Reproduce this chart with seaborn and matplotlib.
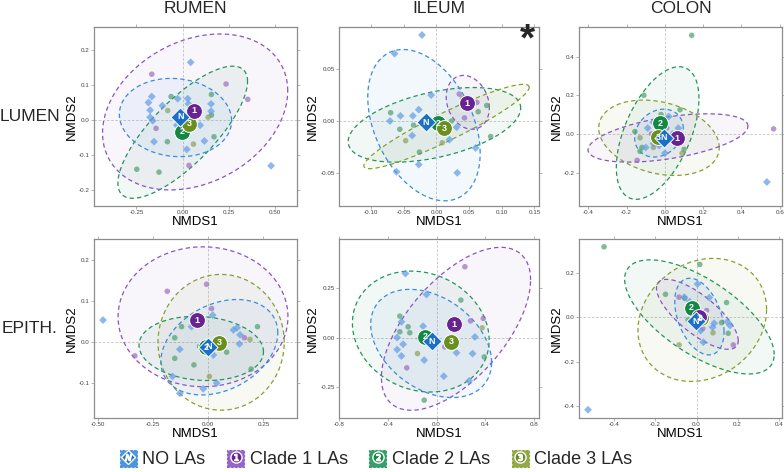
import numpy as np
import pandas as pd
import seaborn as sns
import matplotlib.pyplot as plt
from matplotlib.lines import Line2D
from matplotlib.patches import Patch
from matplotlib.legend_handler import HandlerTuple

sns.set_theme(style="white")
plt.rcParams['font.family'] = ['Liberation Sans', 'DejaVu Sans']

# groups and colours
groups = ["NO LAs", "Clade 1 LAs", "Clade 2 LAs", "Clade 3 LAs"]
short = {"NO LAs": "N", "Clade 1 LAs": "1", "Clade 2 LAs": "2", "Clade 3 LAs": "3"}
line_col = {"NO LAs": "#3a8ae0", "Clade 1 LAs": "#8a55c0", "Clade 2 LAs": "#23955a", "Clade 3 LAs": "#86a032"}
dark_col = {"NO LAs": "#1c6fc8", "Clade 1 LAs": "#662391", "Clade 2 LAs": "#138844", "Clade 3 LAs": "#6a8f1f"}
pt_col = {"NO LAs": "#5f9be6", "Clade 1 LAs": "#9a6ec0", "Clade 2 LAs": "#4f9f70", "Clade 3 LAs": "#8f9f5a"}
pt_marker = {"NO LAs": "D", "Clade 1 LAs": "o", "Clade 2 LAs": "o", "Clade 3 LAs": "o"}
draw_order = ["Clade 2 LAs", "Clade 3 LAs", "Clade 1 LAs", "NO LAs"]

sites = ["RUMEN", "ILEUM", "COLON"]
layers = ["LUMEN", "EPITH."]

# ---- RUMEN / LUMEN ----
rumen_lumen_points = {
    "NO LAs": [(0.043, 0.165), (-0.167, 0.067), (-0.185, 0.05), (-0.11, 0.041), (-0.176, 0.028),
               (-0.027, 0.061), (0.027, 0.061), (0.031, 0.046), (0.153, 0.046), (-0.176, 0.008),
               (-0.162, -0.002), (-0.032, -0.015), (0.094, -0.015), (-0.155, -0.062), (0.022, -0.084),
               (0.117, -0.06), (0.477, -0.131), (0.153, 0.025)],
    "Clade 1 LAs": [(-0.167, 0.131), (0.234, 0.103), (0.351, 0.059), (-0.144, -0.024), (0.034, -0.13)],
    "Clade 2 LAs": [(-0.063, 0.067), (-0.083, -0.062), (0.155, 0.073), (0.169, -0.048), (-0.248, -0.141),
                    (-0.128, -0.149), (0.155, 0.014)],
    "Clade 3 LAs": [(-0.081, 0.027), (0.137, 0.008), (0.058, -0.069)],
}
rumen_lumen_centroids = {"NO LAs": (-0.014, 0.009), "Clade 1 LAs": (0.063, 0.027),
                         "Clade 2 LAs": (-0.004, -0.033), "Clade 3 LAs": (0.034, -0.011)}
# ellipse: centre x, centre y, half width, half height, correlation
rumen_lumen_ellipses = {"NO LAs": (-0.039, 0.007, 0.303, 0.112, -0.08),
                        "Clade 1 LAs": (0.067, 0.023, 0.5, 0.223, 0.27),
                        "Clade 2 LAs": (0.0, -0.035, 0.35, 0.189, 0.77)}

# ---- ILEUM / LUMEN ----
ileum_lumen_points = {
    "NO LAs": [(-0.022, 0.083), (-0.064, 0.065), (-0.008, 0.025), (-0.027, 0.011), (-0.036, 0.005),
               (-0.055, 0.005), (-0.071, 0.0), (-0.037, -0.014), (0.02, -0.018), (0.031, -0.006),
               (0.06, -0.026), (-0.027, -0.042), (-0.061, -0.049), (0.032, -0.05)],
    "Clade 1 LAs": [(0.035, 0.026), (0.062, 0.018), (0.043, 0.003)],
    "Clade 2 LAs": [(-0.07, 0.008), (-0.056, -0.008), (-0.035, -0.004), (-0.026, -0.03), (0.077, 0.015),
                    (0.083, -0.015), (0.064, 0.009), (0.023, 0.0)],
    "Clade 3 LAs": [(-0.047, -0.019), (0.009, -0.021), (0.04, 0.022)],
}
ileum_lumen_centroids = {"NO LAs": (-0.016, -0.001), "Clade 1 LAs": (0.047, 0.017),
                         "Clade 2 LAs": (0.003, -0.002), "Clade 3 LAs": (0.012, -0.007)}
ileum_lumen_ellipses = {"NO LAs": (-0.019, -0.004, 0.086, 0.073, -0.37),
                        "Clade 1 LAs": (0.048, 0.018, 0.033, 0.026, -0.2),
                        "Clade 2 LAs": (-0.003, -0.0037, 0.132, 0.036, 0.45),
                        "Clade 3 LAs": (0.0155, -0.0053, 0.1265, 0.0407, 0.93)}

# ---- COLON / LUMEN ----
colon_lumen_points = {
    "NO LAs": [(0.533, -0.249), (-0.06, 0.06), (-0.09, 0.03), (0.02, 0.09), (-0.06, -0.05), (-0.1, -0.07),
               (0.07, 0.03), (0.0, -0.1), (-0.03, -0.06), (0.04, 0.0)],
    "Clade 1 LAs": [(0.568, 0.026), (-0.145, -0.137), (-0.07, 0.0), (0.01, 0.03)],
    "Clade 2 LAs": [(0.14, 0.51), (-0.11, 0.2), (0.079, 0.125), (-0.157, 0.012), (-0.12, -0.07),
                    (-0.13, -0.09), (0.1, -0.08), (-0.02, 0.1)],
    "Clade 3 LAs": [(-0.06, -0.07), (0.09, -0.1), (-0.13, -0.02), (-0.02, 0.0)],
}
colon_lumen_centroids = {"NO LAs": (-0.005, -0.021), "Clade 1 LAs": (0.065, -0.022),
                         "Clade 2 LAs": (-0.026, 0.055), "Clade 3 LAs": (-0.035, -0.017)}
colon_lumen_ellipses = {"NO LAs": (-0.031, 0.004, 0.127, 0.124, 0.2),
                        "Clade 1 LAs": (0.016, -0.021, 0.418, 0.125, 0.49),
                        "Clade 2 LAs": (-0.038, 0.0045, 0.216, 0.343, 0.52),
                        "Clade 3 LAs": (-0.031, -0.02, 0.315, 0.195, -0.26)}

# ---- RUMEN / EPITH ----
rumen_epith_points = {
    "NO LAs": [(-0.477, 0.054), (-0.129, -0.017), (-0.076, 0.038), (0.02, 0.066), (0.114, 0.03),
               (0.144, 0.018), (0.141, -0.004), (0.023, -0.031), (0.038, -0.099), (-0.023, -0.113),
               (-0.129, -0.124), (-0.162, -0.083), (0.13, 0.035), (-0.02, -0.02), (0.04, 0.0)],
    "Clade 1 LAs": [(-0.186, 0.124), (-0.008, 0.141), (0.015, 0.082), (-0.333, -0.033), (0.164, 0.011)],
    "Clade 2 LAs": [(-0.121, 0.038), (-0.152, 0.011), (-0.152, -0.039), (-0.065, -0.055), (0.083, -0.024),
                    (0.223, 0.038), (0.194, -0.065), (-0.04, -0.01)],
    "Clade 3 LAs": [(0.005, -0.083), (0.189, 0.007)],
}
rumen_epith_centroids = {"NO LAs": (0.0, -0.011), "Clade 1 LAs": (-0.05, 0.054),
                         "Clade 2 LAs": (-0.011, -0.012), "Clade 3 LAs": (0.05, -0.001)}
rumen_epith_ellipses = {"NO LAs": (0.05, -0.012, 0.265, 0.116, 0.3),
                        "Clade 1 LAs": (-0.024, 0.062, 0.385, 0.17, 0.0),
                        "Clade 2 LAs": (-0.032, -0.015, 0.282, 0.078, -0.1),
                        "Clade 3 LAs": (0.058, 0.0, 0.286, 0.165, 0.0)}

# ---- ILEUM / EPITH ----
ileum_epith_points = {
    "NO LAs": [(-0.255, 0.323), (-0.082, 0.217), (-0.288, 0.079), (-0.323, 0.0), (-0.11, 0.057),
               (-0.274, -0.034), (-0.323, -0.061), (-0.288, -0.093), (-0.101, -0.114), (0.06, -0.195),
               (0.164, -0.077), (0.296, -0.081), (0.315, 0.003), (0.268, -0.219), (-0.137, -0.005)],
    "Clade 1 LAs": [(0.233, 0.357), (-0.244, -0.153), (0.068, -0.047), (0.279, 0.084), (0.384, 0.096)],
    "Clade 2 LAs": [(0.2, 0.189), (-0.301, 0.108), (-0.233, 0.054), (-0.301, 0.029), (-0.219, 0.024),
                    (-0.101, -0.316), (0.392, -0.098)],
    "Clade 3 LAs": [(0.375, 0.049), (-0.156, -0.081)],
}
ileum_epith_centroids = {"NO LAs": (-0.041, -0.019), "Clade 1 LAs": (0.145, 0.066),
                         "Clade 2 LAs": (-0.093, 0.003), "Clade 3 LAs": (0.118, -0.022)}
ileum_epith_ellipses = {"NO LAs": (-0.044, -0.03, 0.496, 0.273, -0.35),
                        "Clade 1 LAs": (0.16, 0.044, 0.612, 0.411, 0.6),
                        "Clade 2 LAs": (-0.129, 0.03, 0.561, 0.305, -0.14)}

# ---- COLON / EPITH ----
colon_epith_points = {
    "NO LAs": [(-0.528, -0.415), (0.062, 0.088), (0.005, 0.149), (0.163, -0.037), (0.033, -0.112),
               (0.078, -0.045), (0.086, -0.027), (-0.06, 0.09), (-0.033, 0.07), (0.02, -0.06), (0.15, -0.02)],
    "Clade 1 LAs": [(-0.085, 0.09), (0.049, 0.03), (0.179, -0.124), (0.03, -0.05)],
    "Clade 2 LAs": [(-0.45, 0.316), (0.016, 0.237), (-0.151, 0.103), (-0.057, 0.085), (0.146, 0.066),
                    (0.122, -0.024), (0.154, -0.072), (-0.041, -0.012)],
    "Clade 3 LAs": [(-0.085, -0.124), (0.08, -0.07)],
}
colon_epith_centroids = {"NO LAs": (-0.003, -0.019), "Clade 1 LAs": (0.013, 0.0),
                         "Clade 2 LAs": (-0.024, 0.043), "Clade 3 LAs": (0.02, -0.005)}
colon_epith_ellipses = {"NO LAs": (0.014, 0.003, 0.12, 0.172, -0.39),
                        "Clade 1 LAs": (0.004, 0.013, 0.199, 0.157, -0.75),
                        "Clade 2 LAs": (0.014, 0.0015, 0.364, 0.256, -0.66),
                        "Clade 3 LAs": (0.028, -0.012, 0.313, 0.276, 0.17)}

# axis ranges and ticks
xlims = [(-0.479, 0.617), (-0.149, 0.157), (-0.449, 0.612), (-0.518, 0.402), (-0.8, 0.841), (-0.572, 0.416)]
ylims = [(-0.246, 0.266), (-0.082, 0.0907), (-0.373, 0.553), (-0.184, 0.251), (-0.406, 0.497), (-0.452, 0.351)]
xticks = [[-0.25, 0, 0.25, 0.5], [-0.1, -0.05, 0, 0.05, 0.1, 0.15], [-0.4, -0.2, 0, 0.2, 0.4, 0.6],
          [-0.5, -0.25, 0, 0.25], [-0.8, -0.4, 0, 0.4, 0.8], [-0.4, -0.2, 0, 0.2, 0.4]]
xfmt = ["{:.2f}", "{:.2f}", "{:.1f}", "{:.2f}", "{:.1f}", "{:.1f}"]
yticks = [[-0.2, -0.1, 0, 0.1, 0.2], [-0.05, 0, 0.05], [-0.2, 0, 0.2, 0.4],
          [-0.1, 0, 0.1, 0.2], [-0.25, 0, 0.25], [-0.4, -0.2, 0, 0.2]]
yfmt = ["{:.1f}", "{:.2f}", "{:.1f}", "{:.1f}", "{:.2f}", "{:.1f}"]

panels = [
    (rumen_lumen_points, rumen_lumen_centroids, rumen_lumen_ellipses),
    (ileum_lumen_points, ileum_lumen_centroids, ileum_lumen_ellipses),
    (colon_lumen_points, colon_lumen_centroids, colon_lumen_ellipses),
    (rumen_epith_points, rumen_epith_centroids, rumen_epith_ellipses),
    (ileum_epith_points, ileum_epith_centroids, ileum_epith_ellipses),
    (colon_epith_points, colon_epith_centroids, colon_epith_ellipses),
]


def ellipse_xy(cx, cy, hx, hy, rho):
    t = np.linspace(0, 2 * np.pi, 240)
    x = cx + hx * np.cos(t)
    y = cy + hy * (rho * np.cos(t) + np.sqrt(1 - rho ** 2) * np.sin(t))
    return x, y


W, H = 784, 472
fig = plt.figure(figsize=(W / 100, H / 100), dpi=100)

col_left = [94, 339, 579]
col_w = [203, 200, 203]
row_top = [27, 239]
row_h = 179

for i, (points, cents, ells) in enumerate(panels):
    r, c = divmod(i, 3)
    ax = fig.add_axes([col_left[c] / W, 1 - (row_top[r] + row_h) / H, col_w[c] / W, row_h / H])
    ax.set_facecolor("white")
    ax.axhline(0, color="#c4c4c4", lw=0.6, ls=(0, (3, 2)), zorder=0)
    ax.axvline(0, color="#c4c4c4", lw=0.6, ls=(0, (3, 2)), zorder=0)

    for g in draw_order:
        if g in ells:
            ex, ey = ellipse_xy(*ells[g])
            ax.fill(ex, ey, color=line_col[g], alpha=0.06, lw=0, zorder=1)
    for g in draw_order:
        if g in ells:
            ex, ey = ellipse_xy(*ells[g])
            ax.plot(ex, ey, color=line_col[g], lw=0.9, ls=(0, (3.5, 2.5)), zorder=2)

    rows = [(x, y, g) for g in draw_order for (x, y) in points[g]]
    df = pd.DataFrame(rows, columns=["NMDS1", "NMDS2", "group"])
    sns.scatterplot(data=df, x="NMDS1", y="NMDS2", hue="group", style="group",
                    palette=pt_col, markers=pt_marker, s=16, alpha=0.7,
                    linewidth=0, legend=False, ax=ax, zorder=3)

    cdf = pd.DataFrame([(cents[g][0], cents[g][1], g) for g in draw_order],
                       columns=["NMDS1", "NMDS2", "group"])
    for g in draw_order:
        sub = cdf[cdf["group"] == g]
        sns.scatterplot(data=sub, x="NMDS1", y="NMDS2", color=dark_col[g], marker=pt_marker[g],
                        s=95 if g == "NO LAs" else 130, edgecolor="white", linewidth=0.7,
                        legend=False, ax=ax, zorder=5)
        ax.text(sub["NMDS1"].iloc[0], sub["NMDS2"].iloc[0], short[g], color="white",
                fontsize=6.5, fontweight="bold", ha="center", va="center", zorder=6)

    ax.set_xlim(*xlims[i])
    ax.set_ylim(*ylims[i])
    ax.set_xticks(xticks[i])
    ax.set_xticklabels([xfmt[i].format(v) for v in xticks[i]])
    ax.set_yticks(yticks[i])
    ax.set_yticklabels([yfmt[i].format(v) for v in yticks[i]])
    ax.tick_params(direction="out", length=2, width=0.5, color="#999999", labelsize=4.5,
                   labelcolor="#444444", pad=1, top=True, right=True, bottom=True, left=True)
    for sp in ax.spines.values():
        sp.set_color("#8c8c8c")
        sp.set_linewidth(0.9)
    ax.set_xlabel("NMDS1", fontsize=9.5, labelpad=0.5, color="black")
    ax.set_ylabel("NMDS2", fontsize=9.5, labelpad=1, color="black")

    if r == 0:
        fig.text((col_left[c] + col_w[c] / 2) / W, 1 - 8.5 / H, sites[c], fontsize=12.5,
                 ha="center", va="center")
    if c == 0:
        fig.text(30 / W, 1 - (row_top[r] + row_h / 2) / H, layers[r], fontsize=12.5,
                 ha="center", va="center")
    if i == 1:
        ax.text(0.94, 0.925, "*", transform=ax.transAxes, fontsize=28, fontweight="bold",
                ha="center", va="center")

# legend
handles = []
for g in groups:
    box = Patch(facecolor=line_col[g], edgecolor=line_col[g], alpha=0.9, ls=(0, (2, 1.5)), lw=0.8)
    box.set_facecolor((*plt.matplotlib.colors.to_rgb(line_col[g]), 0.08))
    mk = Line2D([], [], marker=pt_marker[g], ls="", color=dark_col[g], markeredgecolor="white",
                markersize=7 if g == "NO LAs" else 8)
    tx = Line2D([], [], marker="$%s$" % short[g], ls="", color="white", markersize=4.5)
    handles.append((box, mk, tx))
fig.legend(handles, groups, loc="center", bbox_to_anchor=(376 / W, 13 / H), ncol=4, frameon=False,
           fontsize=13, handler_map={tuple: HandlerTuple(ndivide=1)}, handlelength=0.95,
           handleheight=1.1, handletextpad=0.3, columnspacing=1.2, borderpad=0)

fig.savefig("out.png", dpi=100)
